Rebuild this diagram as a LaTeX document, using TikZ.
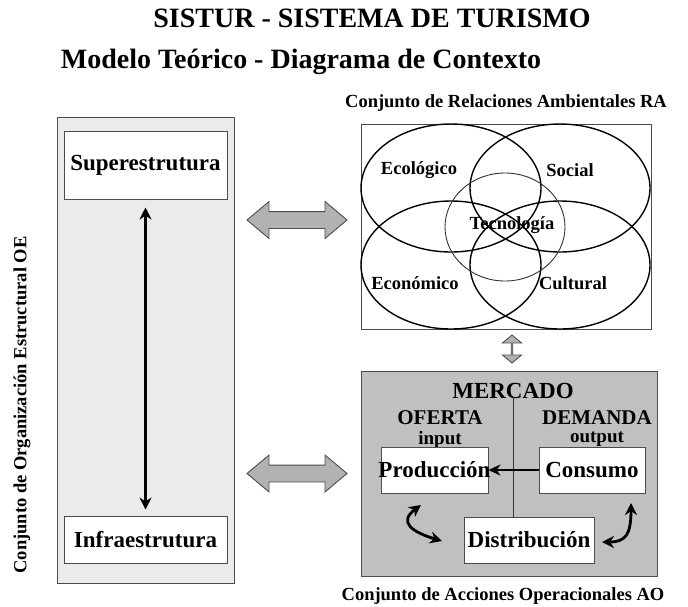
\documentclass[tikz,border=0pt]{standalone}
\usepackage{fontspec}
\setmainfont{Liberation Serif}
\usepackage{tikz}
\usetikzlibrary{shapes.arrows,arrows.meta,positioning,calc}

\definecolor{panelgray}{HTML}{EBEBEB}
\definecolor{marketgray}{HTML}{C0C0C0}
\definecolor{arrowgray}{HTML}{B2B2B2}

\begin{document}
\begin{tikzpicture}[x=1pt,y=-1pt,
    panel/.style={draw=black!70, line width=1pt, inner sep=0pt},
    whitebox/.style={draw=black!70, fill=white, line width=1pt, inner sep=0pt},
    boxtext/.style={font=\fontsize{23}{25}\selectfont\bfseries},
    setlabel/.style={font=\fontsize{18.5}{20}\selectfont\bfseries, inner sep=0pt},
    sidetext/.style={font=\fontsize{21}{22}\selectfont\bfseries, inner sep=0pt},
    iotext/.style={font=\fontsize{19}{20}\selectfont\bfseries, inner sep=0pt},
    venn/.style={draw=black, line width=1.4pt},
    grayarrow/.style={double arrow, draw=black!70, fill=arrowgray, line width=0.9pt,
        inner sep=0pt, inner ysep=8pt, minimum width=36pt, minimum height=100pt,
        double arrow head extend=10pt, double arrow tip angle=80},
    bigarrow/.style={line width=2.8pt, {Stealth[length=12pt,width=12pt]}-{Stealth[length=12pt,width=12pt]}}
  ]
    \useasboundingbox (0,0) rectangle (688,606);

    % Titles
    \node[font=\fontsize{28}{30}\selectfont\bfseries] (title) at (372,18) {SISTUR - SISTEMA DE TURISMO};
    \node[font=\fontsize{28}{30}\selectfont\bfseries] (subtitle) at (301,62) {Modelo Teórico - Diagrama de Contexto};

    % OE: left panel
    \node[panel, fill=panelgray, minimum width=177pt, minimum height=466pt] (oe) at (145.5,350) {};
    \node[whitebox, boxtext, minimum width=163pt, minimum height=68pt] (sup) at (145.5,165) {Superestrutura};
    \node[whitebox, boxtext, minimum width=163pt, minimum height=47pt] (inf) at (145.5,539.5) {Infraestrutura};
    \draw[bigarrow, shorten <=8pt, shorten >=6pt] (sup.south) -- (inf.north);
    \node[setlabel, rotate=90] (oelabel) at (22,405) {Conjunto de Organización Estructural OE};

    % RA: relaciones ambientales
    \node[panel, fill=white, minimum width=290pt, minimum height=205pt] (ra) at (506,226.5) {};
    \node[setlabel] (ralabel) at (506,103) {Conjunto de Relaciones Ambientales RA};
    \draw[venn] (451,188) ellipse [x radius=90, y radius=64];
    \draw[venn] (560,188) ellipse [x radius=90, y radius=64];
    \draw[venn] (451,265) ellipse [x radius=90, y radius=64];
    \draw[venn] (560,265) ellipse [x radius=90, y radius=64];
    \draw[draw=black!80, line width=0.9pt] (505,227) ellipse [x radius=60, y radius=54];
    \node[setlabel] (eco) at (419,170) {Ecológico};
    \node[setlabel] (soc) at (570,170) {Social};
    \node[setlabel] (tec) at (512,225) {Tecnología};
    \node[setlabel] (econ) at (415,283) {Económico};
    \node[setlabel] (cul) at (573,283) {Cultural};

    % AO: acciones operacionales
    \node[panel, fill=marketgray, minimum width=296pt, minimum height=205pt] (ao) at (509,473.5) {};
    \node[setlabel] (aolabel) at (503,596) {Conjunto de Acciones Operacionales AO};
    \coordinate (split) at (513,397);
    \node[boxtext, inner sep=0pt] (mercado) at (513,391) {MERCADO};
    \node[sidetext] (oferta) at (440,417.5) {OFERTA};
    \node[iotext] (input) at (440,439.5) {input};
    \node[sidetext] (demanda) at (597,417.5) {DEMANDA};
    \node[iotext] (output) at (597,439.5) {output};
    \node[whitebox, minimum width=107pt, minimum height=46pt] (prod) at (434.5,470) {};
    \node[whitebox, minimum width=106pt, minimum height=46pt] (cons) at (592,470) {};
    \node[whitebox, minimum width=130pt, minimum height=46pt] (dist) at (529,540) {};
    \draw[black!80, line width=1pt] (split) -- (split |- dist.north);
    \node[boxtext, inner sep=0pt] at (prod) {Producción};
    \node[boxtext, inner sep=0pt] at (cons) {Consumo};
    \node[boxtext, inner sep=0pt] at (dist) {Distribución};
    \draw[line width=2.8pt, -{Stealth[length=12pt,width=11pt]}] (cons.west) -- (prod.east);

    % curved arrows
    \coordinate (pl) at (421,505);
    \coordinate (dl) at (442,541);
    \coordinate (cr) at (631,503);
    \coordinate (dr) at (602,542);
    \draw[bigarrow] (pl) .. controls (398,522) and (412,532) .. (dl);
    \draw[bigarrow] (cr) .. controls (631,534) and (626,542) .. (dr);

    % links between the sets
    \node[grayarrow] (oera) at (297,220) {};
    \node[grayarrow] (oeao) at (297,473.5) {};
    \node[grayarrow, inner ysep=4.5pt, minimum width=19pt, minimum height=28pt,
        double arrow head extend=5pt, double arrow tip angle=100, shape border rotate=90] (raao) at (512,349) {};

\end{tikzpicture}
\end{document}
